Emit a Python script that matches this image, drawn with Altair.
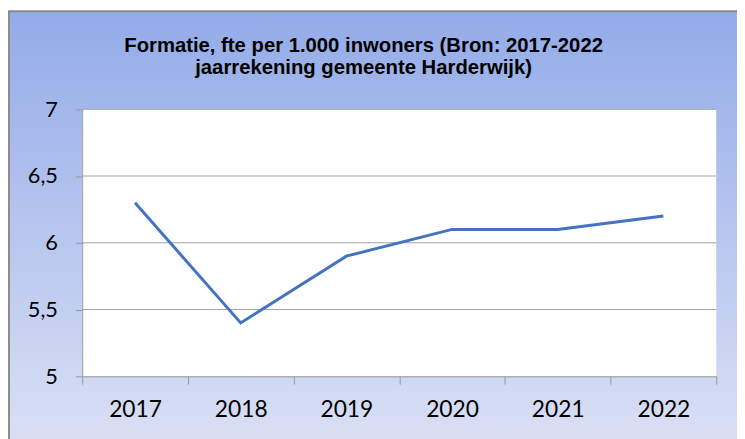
import altair as alt
import pandas as pd

years = ["2017", "2018", "2019", "2020", "2021", "2022"]
fte = [6.3, 5.4, 5.9, 6.1, 6.1, 6.2]
grid_values = [5.5, 6.0, 6.5, 7.0]
title_lines = ["Formatie, fte per 1.000 inwoners (Bron: 2017-2022",
               "jaarrekening gemeente Harderwijk)"]

W, H = 641, 270
PAD_L, PAD_T, PAD_R, PAD_B = 75, 100, 21, 61

df = pd.DataFrame({"year": years, "fte": fte})
grid_df = pd.DataFrame({"v": grid_values})
one = pd.DataFrame({"a": [0]})
title_df = pd.DataFrame({"t": ["\n".join(title_lines)]})

yscale = alt.Scale(domain=[5, 7], nice=False, zero=False)

bg = alt.Chart(one).mark_rect(
    color=alt.Gradient(
        gradient="linear",
        stops=[alt.GradientStop(color="#93abe8", offset=0),
               alt.GradientStop(color="#dfe4f6", offset=1)],
        x1=0, x2=0, y1=0, y2=1,
    ),
    stroke="#8c8c8c", strokeWidth=2,
).encode(
    x=alt.value(-PAD_L + 1), x2=alt.value(W + PAD_R + 40),
    y=alt.value(-PAD_T + 1), y2=alt.value(H + PAD_B + 40),
)

plot_bg = alt.Chart(one).mark_rect(color="white").encode(
    x=alt.value(0), x2=alt.value(W), y=alt.value(0), y2=alt.value(H)
)

grid = alt.Chart(grid_df).mark_rule(color="#a0a0a0", strokeWidth=1).encode(
    y=alt.Y("v:Q", scale=yscale, title=None),
    x=alt.value(0), x2=alt.value(W),
)

line = alt.Chart(df).mark_line(color="#4472c4", strokeWidth=3).encode(
    x=alt.X("year:O", scale=alt.Scale(type="band", paddingInner=0, paddingOuter=0),
            title=None,
            axis=alt.Axis(tickBand="extent", labelAngle=0, grid=False, zindex=1)),
    y=alt.Y("fte:Q", scale=yscale, title=None,
            axis=alt.Axis(values=[5, 5.5, 6, 6.5, 7], grid=False, zindex=1,
                          labelExpr="replace(toString(datum.value), '.', ',')")),
)

title = alt.Chart(title_df).mark_text(
    font="Liberation Sans", fontSize=20.5, fontWeight="bold", color="#000000",
    align="center", baseline="alphabetic", lineBreak="\n", lineHeight=22.5,
).encode(
    text="t:N", x=alt.value(284.5), y=alt.value(-58.3),
)

chart = alt.layer(bg, plot_bg, grid, line, title).properties(
    width=W, height=H,
    autosize=alt.AutoSizeParams(type="none"),
    padding={"left": PAD_L, "top": PAD_T, "right": PAD_R, "bottom": PAD_B},
).configure_view(stroke=None).configure_axis(
    domainColor="#999999", tickColor="#999999", labelColor="#000000",
    labelFont="Lato",
).configure_axisX(
    tickSize=8, labelFontSize=23, labelPadding=15,
).configure_axisY(
    tickSize=7, labelFontSize=22, labelPadding=18,
)

chart.save("out.html", embed_options={"renderer": "svg", "actions": False})
